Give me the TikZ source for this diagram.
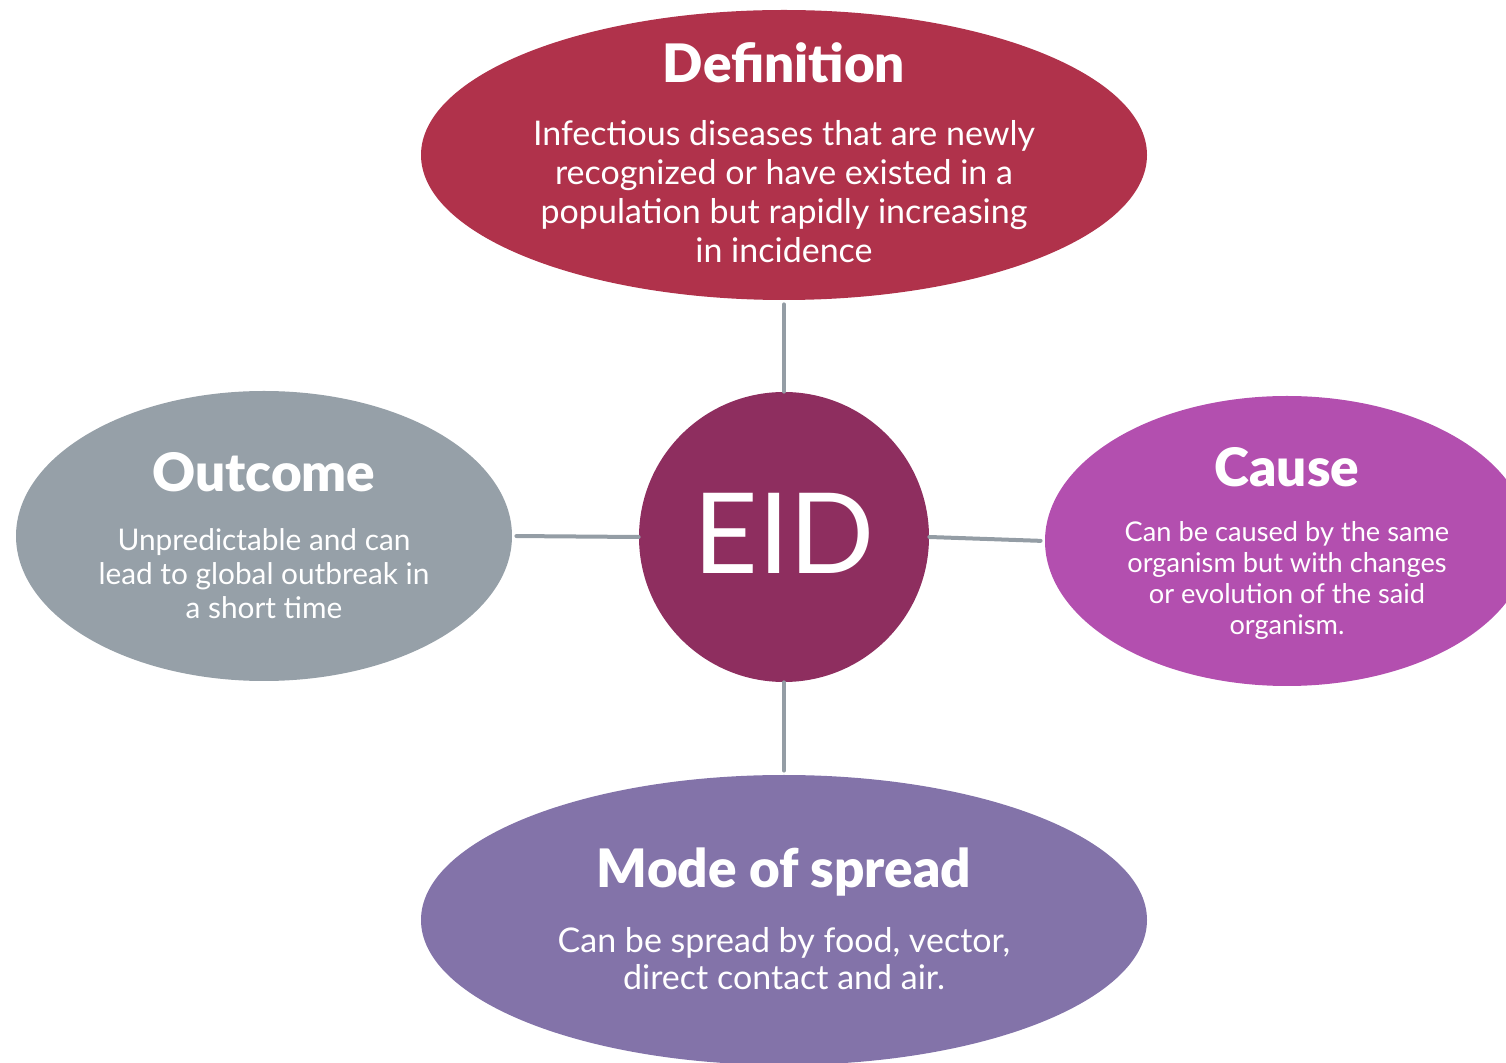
\documentclass[tikz,border=0pt]{standalone}
\usepackage{fontspec}
\setmainfont{Lato}
\newfontfamily\heavyfont{Lato Black}
\usetikzlibrary{shapes.geometric}
\definecolor{defcol}{HTML}{B0324B}
\definecolor{eidcol}{HTML}{8E2E5F}
\definecolor{outcol}{HTML}{96A0A8}
\definecolor{caucol}{HTML}{B34FAF}
\definecolor{modcol}{HTML}{8373A9}
\definecolor{linkcol}{HTML}{949DA5}
\begin{document}
\begin{tikzpicture}[x=0.5pt,y=-0.5pt,
  blob/.style={ellipse,inner sep=0pt,draw=none},
  title/.style={text=white,font=\heavyfont\fontsize{26.5}{30}\selectfont,anchor=base,inner sep=0pt},
  body/.style={text=white,align=center,inner sep=0pt},
  link/.style={draw=linkcol,line width=2pt,line cap=round}]
\useasboundingbox (0,0) rectangle (1506,1063);
\clip (0,0) rectangle (1506,1063);

% central circle and the four topic ellipses
\node[blob,fill=defcol,minimum width=363pt,minimum height=145pt] (def) at (784,155) {};
\node[circle,inner sep=0pt,fill=eidcol,minimum size=145pt] (eid) at (784,537) {};
\node[blob,fill=outcol,minimum width=248pt,minimum height=145pt] (out) at (264,536) {};
\node[blob,fill=caucol,minimum width=242pt,minimum height=145pt] (cau) at (1287,541) {};
\node[blob,fill=modcol,minimum width=363pt,minimum height=145pt] (mod) at (784,920) {};

% connectors
\draw[link,shorten <=2pt] (def.south) -- (eid.north);
\draw[link,shorten <=2pt] (out.east) -- (eid.west);
\draw[link,shorten >=2pt] (eid.east) -- (cau.west);
\draw[link,shorten >=2pt] (eid.south) -- (mod.north);

% labels
\node[text=white,inner sep=0pt,font=\fontsize{56}{60}\selectfont] (eidt) at (784,533) {EID};

\node[title] (deft) at (784,83) {Definition};
\node[body,font=\fontsize{17}{19.5}\selectfont] (defb) at (784,192)
  {Infectious diseases that are newly\\recognized or have existed in a\\population but rapidly increasing\\in incidence};

\node[title] (outt) at (264,492) {Outcome};
\node[body,font=\fontsize{14.9}{17}\selectfont] (outb) at (264,574)
  {Unpredictable and can\\lead to global outbreak in\\a short time};

\node[title] (caut) at (1287,487) {Cause};
\node[body,font=\fontsize{13.6}{15.5}\selectfont] (caub) at (1287,580)
  {Can be caused by the same\\organism but with changes\\or evolution of the said\\organism.};

\node[title] (modt) at (784,888) {Mode of spread};
\node[body,font=\fontsize{17}{18.5}\selectfont] (modb) at (784,959)
  {Can be spread by food, vector,\\direct contact and air.};
\end{tikzpicture}
\end{document}
